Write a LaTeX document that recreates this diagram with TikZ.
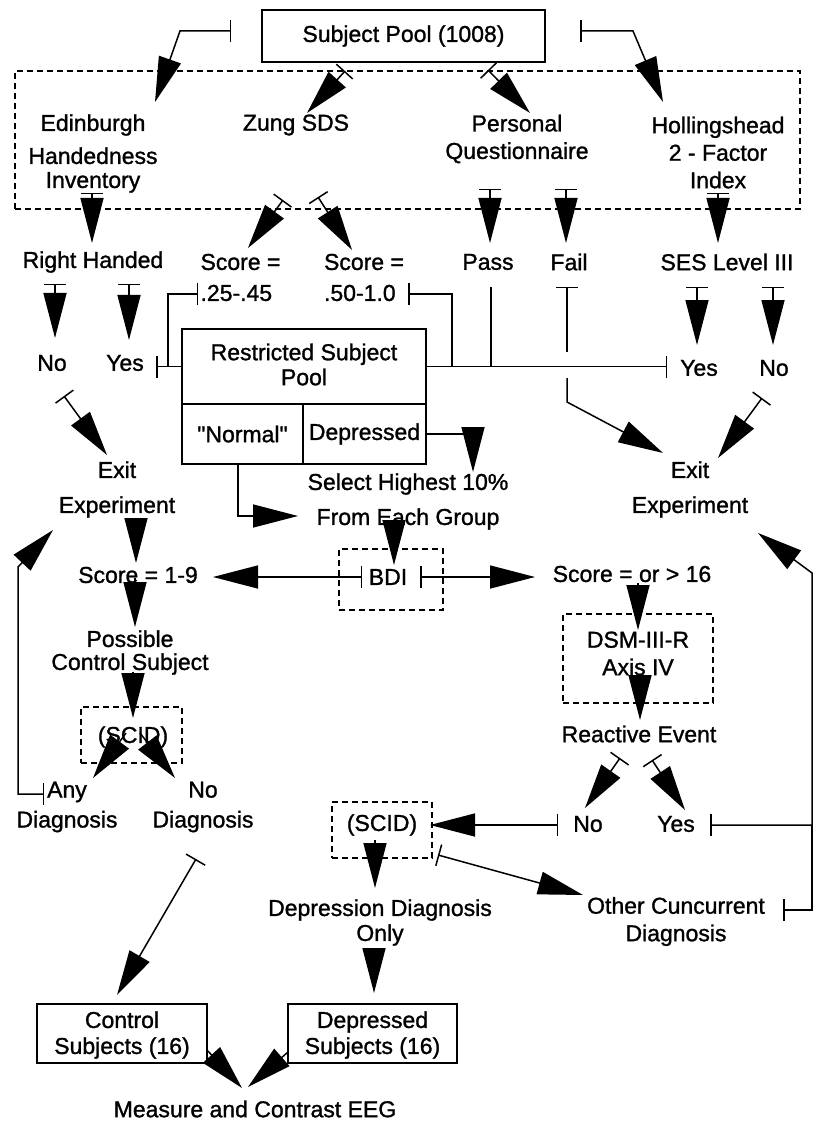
\documentclass[tikz,border=0pt]{standalone}
\usepackage{fontspec}
\setmainfont{Liberation Sans}[FakeBold=1.2]
\font\qf="Liberation Sans:embolden=1.2" at 23pt
\usetikzlibrary{arrows.meta}
\begin{document}
\begin{tikzpicture}[x=1pt,y=-1pt,
  lbl/.style={inner sep=0pt, align=center, font=\fontsize{23}{27.5}\selectfont},
  solidbox/.style={draw, line width=1.6pt, inner sep=0pt},
  dashbox/.style={draw, line width=1.3pt, dash pattern=on 6pt off 4pt, inner sep=0pt},
  conn/.style={line width=1.5pt},
  tarrow/.style={conn, {Bar[width=22pt]}-{Triangle[length=45pt,width=23pt]}},
  arr/.style={conn, -{Triangle[length=45pt,width=23pt]}},
  barstart/.style={conn, {Bar[width=22pt]}-},
  barend/.style={conn, -{Bar[width=22pt]}},
]
\useasboundingbox (0,0) rectangle (817,1131);

% ---------- boxes ----------
\node[lbl, solidbox, minimum width=283pt, minimum height=52pt] (pool) at (403.5,36) {Subject Pool (1008)};
\node[dashbox, minimum width=785pt, minimum height=138pt] (tests) at (407.5,140) {};
\node[solidbox, minimum width=244pt, minimum height=75pt] (rsp) at (304,366.5) {};
\node[solidbox, minimum width=121pt, minimum height=60pt] (norm) at (242.5,434) {};
\node[solidbox, minimum width=123pt, minimum height=60pt] (dep) at (364.5,434) {};
\node[dashbox, minimum width=104pt, minimum height=61pt] (bdibox) at (391,579.5) {};
\node[dashbox, minimum width=101pt, minimum height=56pt] (scid1box) at (131.5,735) {};
\node[dashbox, minimum width=150pt, minimum height=89pt] (dsmbox) at (638,658.5) {};
\node[dashbox, minimum width=100pt, minimum height=56pt] (scid2box) at (382,830) {};
\node[solidbox, minimum width=170pt, minimum height=59pt] (ctrl) at (122,1033.5) {};
\node[solidbox, minimum width=169pt, minimum height=59pt] (depsub) at (372.5,1033.5) {};

% ---------- texts ----------
\node[lbl] (edin) at (93,153.5) {Edinburgh\\[5.5pt]Handedness\\[-3.5pt]Inventory};
\node[lbl] (zung) at (296,125) {Zung SDS};
\node[lbl] (pers) at (517,139) {Personal\\Questionnaire};
\node[lbl] (holl) at (718,152.5) {Hollingshead\\2 - Factor\\Index};
\node[lbl] (rh) at (93,262) {Right Handed};
\node[lbl, align=left] (sc1) at (240.5,277.5) {Score =\\[3.5pt].25-.45};
\node[lbl, align=left] (sc2) at (364,277.5) {Score =\\[3.5pt].50-1.0};
\node[lbl] (pass) at (488,262) {Pass};
\node[lbl] (fail) at (569,262) {Fail};
\node[lbl] (ses) at (727,262) {SES Level III};
\node[lbl] (no1) at (52,363) {No};
\node[lbl] (yes1) at (125,363) {Yes};
\node[lbl] (yes2) at (699,368) {Yes};
\node[lbl] (no2) at (774,368) {No};
\node[lbl] (rsptxt) at (304,364.5) {Restricted Subject\\[-2.5pt]Pool};
\node[lbl] (normtxt) at (242.5,434) {{\qf\char34}Normal{\qf\char34}};
\node[lbl] (deptxt) at (364.5,434) {Depressed};
\node[lbl] (exitL) at (117,489.5) {Exit\\[7.5pt]Experiment};
\node[lbl] (exitR) at (690,489.5) {Exit\\[7.5pt]Experiment};
\node[lbl] (sel) at (408,501.5) {Select Highest 10\%\\[7.5pt]From Each Group};
\node[lbl] (bdi) at (388,577) {BDI};
\node[lbl] (s19) at (138,575) {Score = 1-9};
\node[lbl] (s16) at (632,574) {Score = or > 16};
\node[lbl] (poss) at (130,652.5) {Possible\\[-4.5pt]Control Subject};
\node[lbl] (scid1) at (133,737) {(SCID)};
\node[lbl] (dsm) at (638,653.5) {DSM-III-R\\Axis IV};
\node[lbl] (react) at (639,734) {Reactive Event};
\node[lbl] (no3) at (588,824) {No};
\node[lbl] (yes3) at (676,824) {Yes};
\node[lbl] (scid2) at (382,825) {(SCID)};
\node[lbl] (anyd) at (67,807) {Any\\[2.5pt]Diagnosis};
\node[lbl] (nod) at (203,807) {No\\[2.5pt]Diagnosis};
\node[lbl] (depdiag) at (380,922.5) {Depression Diagnosis\\[-2.5pt]Only};
\node[lbl] (other) at (676,921.5) {Other Cuncurrent\\Diagnosis};
\node[lbl] (ctrltxt) at (122,1035) {Control\\[-1.5pt]Subjects (16)};
\node[lbl] (depsubtxt) at (372.5,1035) {Depressed\\[-1.5pt]Subjects (16)};
\node[lbl] (measure) at (255,1109) {Measure and Contrast EEG};

% ---------- connector end points ----------
\coordinate (pe1) at (231,31);  \coordinate (pe2) at (180,31);  \coordinate (pe3) at (155,102);
\coordinate (ph1) at (580,31);  \coordinate (ph2) at (633,31);  \coordinate (ph3) at (663,102);
\coordinate (pz1) at (345,71);  \coordinate (pz2) at (307,113);
\coordinate (pp1) at (488,70);  \coordinate (pp2) at (530,113);
\coordinate (er1) at (92,193);  \coordinate (er2) at (92,243);
\coordinate (zs1) at (283,200); \coordinate (zs2) at (248,248);
\coordinate (zt1) at (318,197); \coordinate (zt2) at (352,250);
\coordinate (qp1) at (490,189); \coordinate (qp2) at (490,243);
\coordinate (qf1) at (566,189); \coordinate (qf2) at (566,243);
\coordinate (hs1) at (718,193); \coordinate (hs2) at (718,243);
\coordinate (rn1) at (55,284);  \coordinate (rn2) at (55,338);
\coordinate (ry1) at (129,284); \coordinate (ry2) at (129,340);
\coordinate (sy1) at (697,287); \coordinate (sy2) at (697,345);
\coordinate (sn1) at (773,287); \coordinate (sn2) at (773,345);
\coordinate (y1b) at (156,366.5);
\coordinate (s1a) at (198,294); \coordinate (s1b) at (168,294); \coordinate (s1c) at (168,366.5);
\coordinate (s2a) at (408,294); \coordinate (s2b) at (452,294); \coordinate (s2c) at (452,366.5);
\coordinate (y2b) at (667,366.5);
\coordinate (pa1) at (491,287); \coordinate (pa2) at (491,366.5);
\coordinate (fa1) at (567,287); \coordinate (fa2) at (567,352);
\coordinate (fa3) at (567,378); \coordinate (fa4) at (567,402); \coordinate (fa5) at (663,453);
\coordinate (nx1) at (762,398); \coordinate (nx2) at (718,458);
\coordinate (lx1) at (64,396);  \coordinate (lx2) at (107,455);
\coordinate (sd) at (473,472);
\coordinate (ns0) at (238,464); \coordinate (ns) at (298,516);
\coordinate (sb1) at (394,522); \coordinate (sb2) at (394,565);
\coordinate (bl1) at (362,577); \coordinate (bl2) at (213,577);
\coordinate (br1) at (420,577); \coordinate (br2) at (535,577);
\coordinate (es1) at (136,522); \coordinate (es2) at (136,563);
\coordinate (sp1) at (135,578); \coordinate (sp2) at (135,627);
\coordinate (ps1) at (133,672); \coordinate (ps2) at (133,718);
\coordinate (ca1) at (126,733); \coordinate (ca2) at (93,778);
\coordinate (cn1) at (140,733); \coordinate (cn2) at (175,778);
\coordinate (al1) at (44,794);  \coordinate (al2) at (18,794); \coordinate (al3) at (18,567); \coordinate (al4) at (53,530);
\coordinate (nc1) at (196,859); \coordinate (nc2) at (117,995);
\coordinate (sd1) at (638,583); \coordinate (sd2) at (638,630);
\coordinate (dr1) at (640,675); \coordinate (dr2) at (640,720);
\coordinate (rn3a) at (620,758); \coordinate (rn3b) at (585,808);
\coordinate (ry3a) at (652,760); \coordinate (ry3b) at (685,810);
\coordinate (n3a) at (558,825); \coordinate (n3b) at (430,825);
\coordinate (y3a) at (710,825); \coordinate (y3b) at (812,825); \coordinate (y3c) at (812,573); \coordinate (y3d) at (758,533);
\coordinate (ol1) at (783,910); \coordinate (ol2) at (812,910);
\coordinate (cd1) at (375,840); \coordinate (cd2) at (375,888);
\coordinate (co1) at (438,855); \coordinate (co2) at (583,895);
\coordinate (dd1) at (374,948); \coordinate (dd2) at (374,993);
\coordinate (cm1) at (207,1050); \coordinate (cm2) at (242,1088);
\coordinate (dm1) at (288,1052); \coordinate (dm2) at (248,1087);

% ---------- connectors ----------
\draw[tarrow] (pe1) -- (pe2) -- (pe3);
\draw[tarrow] (ph1) -- (ph2) -- (ph3);
\draw[tarrow] (pz1) -- (pz2);
\draw[tarrow] (pp1) -- (pp2);
\draw[tarrow] (er1) -- (er2);
\draw[tarrow] (zs1) -- (zs2);
\draw[tarrow] (zt1) -- (zt2);
\draw[tarrow] (qp1) -- (qp2);
\draw[tarrow] (qf1) -- (qf2);
\draw[tarrow] (hs1) -- (hs2);
\draw[tarrow] (rn1) -- (rn2);
\draw[tarrow] (ry1) -- (ry2);
\draw[tarrow] (sy1) -- (sy2);
\draw[tarrow] (sn1) -- (sn2);
\draw[barstart] (y1b) -- (rsp.west);
\draw[barstart] (s1a) -- (s1b) -- (s1c);
\draw[barstart] (s2a) -- (s2b) -- (s2c);
\draw[barend] (rsp.east) -- (y2b);
\draw[conn] (pa1) -- (pa2);
\draw[barstart] (fa1) -- (fa2);
\draw[arr] (fa3) -- (fa4) -- (fa5);
\draw[tarrow] (nx1) -- (nx2);
\draw[tarrow] (lx1) -- (lx2);
\draw[arr] (dep.east) -| (sd);
\draw[arr] (ns0) |- (ns);
\draw[arr] (sb1) -- (sb2);
\draw[tarrow] (bl1) -- (bl2);
\draw[tarrow] (br1) -- (br2);
\draw[arr] (es1) -- (es2);
\draw[arr] (sp1) -- (sp2);
\draw[arr] (ps1) -- (ps2);
\draw[arr] (ca1) -- (ca2);
\draw[arr] (cn1) -- (cn2);
\draw[tarrow] (al1) -- (al2) -- (al3) -- (al4);
\draw[tarrow] (nc1) -- (nc2);
\draw[arr] (sd1) -- (sd2);
\draw[arr] (dr1) -- (dr2);
\draw[tarrow] (rn3a) -- (rn3b);
\draw[tarrow] (ry3a) -- (ry3b);
\draw[tarrow] (n3a) -- (n3b);
\draw[tarrow] (y3a) -- (y3b) -- (y3c) -- (y3d);
\draw[barstart] (ol1) -- (ol2) -- (y3b);
\draw[arr] (cd1) -- (cd2);
\draw[tarrow] (co1) -- (co2);
\draw[arr] (dd1) -- (dd2);
\draw[arr] (cm1) -- (cm2);
\draw[arr] (dm1) -- (dm2);
\end{tikzpicture}
\end{document}
